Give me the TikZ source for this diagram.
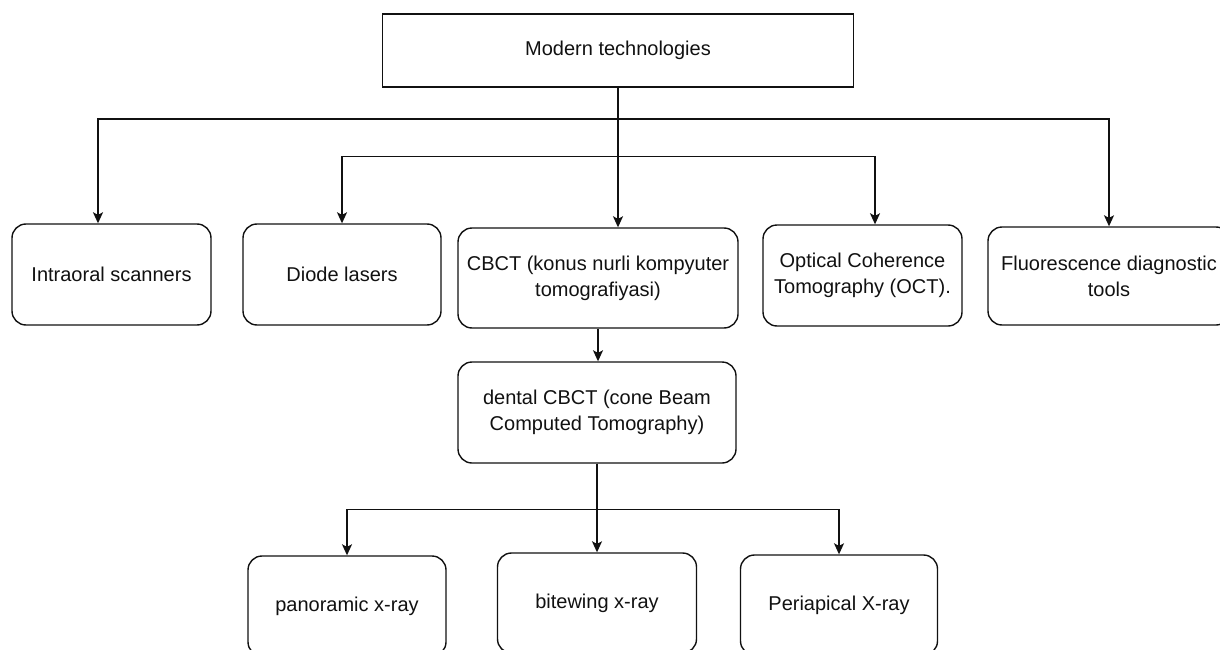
\documentclass[tikz,border=0pt]{standalone}
\usepackage{fontspec}
\setmainfont{Liberation Sans}
\usetikzlibrary{arrows.meta}
\definecolor{ink}{HTML}{111111}
\begin{document}
\begin{tikzpicture}[x=1pt,y=-1pt,
  base/.style={draw=ink, line width=1.4pt, align=center, inner sep=0pt,
    text=ink, font=\fontsize{20}{26}\selectfont},
  box/.style={base, rounded corners=14pt},
  arr/.style={draw=ink, line width=1.4pt,
    -{Stealth[length=11pt,width=10pt,inset=2.5pt]}}]
\useasboundingbox (0,0) rectangle (1220,650);
\clip (0,0) rectangle (1220,650);

% root
\node[base, minimum width=471pt, minimum height=73pt] (top) at (618,50.5) {Modern technologies};

% first level
\node[box, minimum width=199pt, minimum height=101pt] (intra) at (111.5,274.5) {Intraoral scanners};
\node[box, minimum width=198pt, minimum height=101pt] (diode) at (342,274.5) {Diode lasers};
\node[box, minimum width=280pt, minimum height=100pt] (cbct) at (598,278) {CBCT (konus nurli kompyuter\\tomografiyasi)};
\node[box, minimum width=199pt, minimum height=101pt] (oct) at (862.5,275.5) {Optical Coherence\\Tomography (OCT).};
\node[box, minimum width=242pt, minimum height=98pt] (fluor) at (1109,276) {Fluorescence diagnostic\\tools};

% second level
\node[box, minimum width=278pt, minimum height=101pt] (dental) at (597,412.5) {dental CBCT (cone Beam\\Computed Tomography)};

% third level
\node[box, minimum width=198pt, minimum height=100pt] (pano) at (347,606) {panoramic x-ray};
\node[box, minimum width=199pt, minimum height=100pt] (bite) at (597,603) {bitewing x-ray};
\node[box, minimum width=197pt, minimum height=100pt] (peri) at (839,605) {Periapical X-ray};

% connectors from the root
\draw[arr] (top.south) -- ++(0,31.5) -| ([xshift=-13.5pt]intra.north);
\draw[arr] (top.south) -- ++(0,31.5) -| (fluor.north);
\draw[arr] (top.south) -- ++(0,68.5) -| (diode.north);
\draw[arr] (top.south) -- ++(0,68.5) -| ([xshift=12.5pt]oct.north);
\draw[arr] (top.south) -- (top.south |- cbct.north);

% CBCT branch
\draw[arr] (cbct.south) -- (cbct.south |- dental.north);
\draw[arr] (dental.south) -- ++(0,45.5) -| (pano.north);
\draw[arr] (dental.south) -- ++(0,45.5) -| (bite.north);
\draw[arr] (dental.south) -- ++(0,45.5) -| (peri.north);
\end{tikzpicture}
\end{document}
